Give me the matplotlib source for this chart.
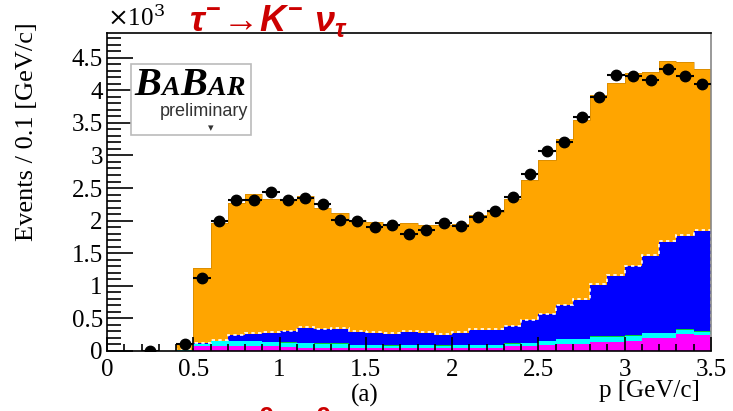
import numpy as np
import matplotlib
matplotlib.use("Agg")
import matplotlib.pyplot as plt
from matplotlib.ticker import MultipleLocator, FormatStrFormatter

plt.rcParams['font.family'] = ['Liberation Serif', 'DejaVu Serif']
plt.rcParams['mathtext.fontset'] = 'custom'
plt.rcParams['mathtext.it'] = 'Liberation Sans:italic:bold'
plt.rcParams['mathtext.rm'] = 'Liberation Sans:bold'

# histogram bins (GeV/c), 0.1 wide, starting at 0.4
edges = np.round(np.arange(0.4, 3.51, 0.1), 2)

# cumulative stack tops, in units of 10^3 events
total_mc = [0.11, 1.27, 1.97, 2.27, 2.41, 2.33, 2.33, 2.38, 2.19, 2.11,
            2.01, 1.98, 1.95, 1.97, 1.93, 1.93, 1.95, 2.08, 2.13, 2.33,
            2.63, 2.93, 3.25, 3.54, 3.93, 4.11, 4.26, 4.28, 4.45, 4.44, 4.33]
bkg_blue = [0.02, 0.115, 0.16, 0.24, 0.26, 0.28, 0.30, 0.36, 0.33, 0.34,
            0.29, 0.28, 0.26, 0.29, 0.28, 0.25, 0.28, 0.32, 0.32, 0.38,
            0.47, 0.56, 0.70, 0.78, 1.02, 1.15, 1.30, 1.46, 1.67, 1.77, 1.84]
bkg_green = [0.017, 0.112, 0.155, 0.155, 0.155, 0.145, 0.135, 0.125, 0.115, 0.115,
             0.09, 0.095, 0.085, 0.095, 0.09, 0.085, 0.095, 0.095, 0.095, 0.115,
             0.13, 0.16, 0.19, 0.19, 0.23, 0.23, 0.24, 0.28, 0.28, 0.33, 0.30]
bkg_cyan = [0.015, 0.11, 0.15, 0.15, 0.15, 0.14, 0.13, 0.12, 0.11, 0.11,
            0.085, 0.09, 0.08, 0.09, 0.085, 0.08, 0.09, 0.09, 0.09, 0.11,
            0.12, 0.15, 0.18, 0.18, 0.22, 0.22, 0.23, 0.27, 0.27, 0.32, 0.29]
bkg_magenta = [0.005, 0.07, 0.08, 0.08, 0.07, 0.07, 0.06, 0.05, 0.05, 0.05,
               0.05, 0.05, 0.05, 0.05, 0.05, 0.05, 0.05, 0.05, 0.05, 0.07,
               0.07, 0.09, 0.11, 0.11, 0.14, 0.14, 0.16, 0.20, 0.20, 0.26, 0.24]

# data points
data_p = [0.25, 0.45, 0.55, 0.65, 0.75, 0.85, 0.95, 1.05, 1.15, 1.25, 1.35,
          1.45, 1.55, 1.65, 1.75, 1.85, 1.95, 2.05, 2.15, 2.25, 2.35,
          2.45, 2.55, 2.65, 2.75, 2.85, 2.95, 3.05, 3.15, 3.25, 3.35, 3.45]
data_n = [0.0, 0.10, 1.12, 1.99, 2.32, 2.32, 2.44, 2.32, 2.34, 2.26, 2.01,
          2.00, 1.90, 1.94, 1.80, 1.85, 1.96, 1.92, 2.05, 2.14, 2.36,
          2.72, 3.07, 3.20, 3.59, 3.90, 4.23, 4.22, 4.16, 4.33, 4.22, 4.10]

fig = plt.figure(figsize=(7.33, 4.11), dpi=100)
ax = fig.add_axes([0.146, 0.146, 0.824, 0.774])

layers = [(total_mc, bkg_blue, '#ffa500'),
          (bkg_blue, bkg_green, '#0000ff'),
          (bkg_green, bkg_cyan, '#00cc33'),
          (bkg_cyan, bkg_magenta, '#00ffff'),
          (bkg_magenta, np.zeros(len(bkg_magenta)), '#ff00ff')]
for top, bottom, col in layers:
    ax.stairs(top, edges, baseline=bottom, fill=True, color=col, lw=0)

# white dashed uncertainty marks on top of the background stack
ax.stairs(np.array(bkg_blue) + 0.01, edges, color='white', lw=1.2, ls=(0, (2, 2)))
ax.stairs(total_mc, edges, color='#b07000', lw=0.6, alpha=0.5)

ax.errorbar(data_p, data_n, xerr=0.05, fmt='o', color='black', ms=7.5,
            elinewidth=1.5, capsize=0, zorder=5)

ax.set_xlim(0, 3.5)
ax.set_ylim(0, 4.88)
ax.xaxis.set_major_locator(MultipleLocator(0.5))
ax.xaxis.set_minor_locator(MultipleLocator(0.1))
ax.yaxis.set_major_locator(MultipleLocator(0.5))
ax.yaxis.set_minor_locator(MultipleLocator(0.1))
ax.xaxis.set_major_formatter(FormatStrFormatter('%g'))
ax.yaxis.set_major_formatter(FormatStrFormatter('%g'))
ax.tick_params(axis='both', which='both', direction='in', top=False, right=False,
               labelsize=18, width=1.2, colors='black')
ax.tick_params(axis='x', which='major', length=10, pad=6)
ax.tick_params(axis='x', which='minor', length=5)
ax.tick_params(axis='y', which='major', length=19, pad=3)
ax.tick_params(axis='y', which='minor', length=10)
for s in ax.spines.values():
    s.set_linewidth(1.2)
ax.spines['right'].set_color('#888888')
ax.set_axisbelow(False)

fig.text(0.955, 0.033, 'p [GeV/c]', ha='right', va='baseline', fontsize=18)
fig.text(0.037, 0.945, 'Events / 0.1 [GeV/c]', rotation=90, ha='center',
         va='top', fontsize=19)
fig.text(0.146, 0.925, r'$\times$10$^{3}$', fontsize=18, ha='left', va='bottom',
         math_fontfamily='dejavuserif')
fig.text(0.498, 0.01, '(a)', fontsize=18, ha='center', va='bottom')

# decay channel labels
fig.text(0.258, 0.905, r'$\tau^{-}\!\rightarrow\! K^{-}\ \nu_{\tau}$', fontsize=26,
         color='#cc0000', ha='left', va='bottom')
fig.text(0.215, -0.095, r'$K^{-}\ \ \pi^{0}\ \pi^{0}$', fontsize=28,
         color='#cc0000', ha='left', va='bottom')

# BaBar preliminary stamp
box = plt.Rectangle((0.179, 0.672), 0.163, 0.173, transform=fig.transFigure,
                    facecolor='white', edgecolor='#bbbbbb', lw=1.2, zorder=6)
fig.patches.append(box)
x0 = 0.184
for ch, fs in [('B', 29), ('A', 20), ('B', 29), ('A', 20), ('R', 20)]:
    t = fig.text(x0, 0.768, ch, fontsize=fs, style='italic', weight='bold',
                 family='Liberation Serif', ha='left', va='baseline', zorder=7)
    fig.canvas.draw()
    bb = t.get_window_extent()
    x0 += bb.width / fig.bbox.width
fig.text(0.338, 0.718, 'preliminary', fontsize=13, family='Liberation Sans',
         ha='right', va='baseline', color='#333333', zorder=7)
fig.text(0.287, 0.688, '\u25be', fontsize=8, family='DejaVu Sans', ha='center',
         va='center', color='#333333', zorder=7)

fig.savefig('out.png', dpi=100)
